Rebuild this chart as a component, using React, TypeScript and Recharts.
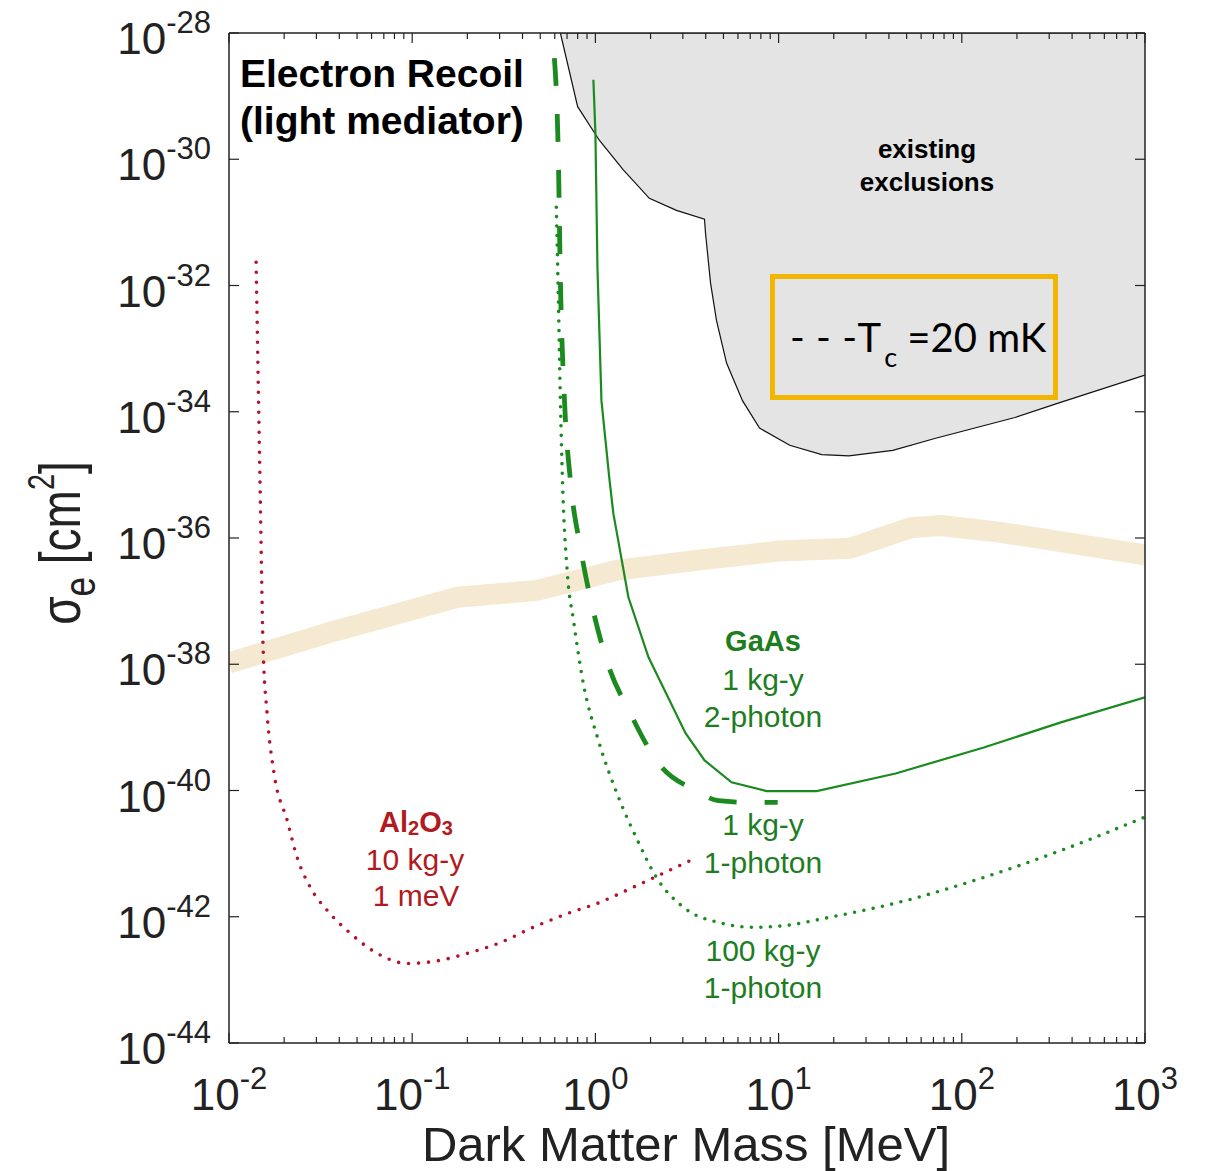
import React from 'react'
import { ComposedChart, Line, Area, XAxis, YAxis } from 'recharts'

// existing exclusions: lower edge of the grey region [MeV], [cm^2]
const exclMass = [0.644, 0.8, 1.05, 1.42, 1.97, 2.77, 3.94, 3.99, 4.25, 4.58, 5.2, 6.35, 7.87, 11.5, 17.2, 24.2, 42, 72, 195, 339, 1000]
const exclSigma = [1e-28, 6.8e-30, 2.0e-30, 6.8e-31, 2.4e-31, 1.55e-31, 1.12e-31, 6.8e-32, 1.1e-32, 2.8e-33, 5.9e-34, 1.5e-34, 5.5e-35, 2.95e-35, 2.1e-35, 2.0e-35, 2.45e-35, 3.8e-35, 8.1e-35, 1.38e-34, 3.8e-34]

// freeze-in target band
const targetMass = [0.01, 0.0344, 0.176, 0.48, 1.32, 3.75, 10, 24.7, 52.6, 76.7, 163, 1000]
const targetSigma = [1.05e-38, 3.1e-38, 1.15e-37, 1.48e-37, 3.1e-37, 4.5e-37, 6.2e-37, 6.9e-37, 1.45e-36, 1.58e-36, 1.23e-36, 5.4e-37]

// Al2O3 10 kg-y, 1 meV threshold
const al2o3Mass = [0.01406, 0.01476, 0.01535, 0.01614, 0.01762, 0.02075, 0.02355, 0.02773, 0.03436, 0.04581, 0.06442, 0.09397, 0.1422, 0.2, 0.3027, 0.4581, 0.7031, 1.064, 1.614, 3.304]
const al2o3Sigma = [2.34e-32, 8.3e-36, 1.86e-38, 1.66e-39, 1.86e-40, 3.4e-41, 8.7e-42, 2.95e-42, 1.26e-42, 5.5e-43, 2.63e-43, 1.82e-43, 2.04e-43, 2.63e-43, 3.9e-43, 6.8e-43, 1.12e-42, 1.7e-42, 2.95e-42, 7.8e-42]

// GaAs 100 kg-y 1-photon
const gaas100Mass = [0.612, 0.628, 0.644, 0.661, 0.703, 0.759, 0.859, 1.037, 1.337, 1.698, 2.153, 3.027, 4.887, 7.211, 10.64, 19.01, 50.0, 131.8, 347.5, 1000]
const gaas100Sigma = [1.74e-31, 5.9e-33, 1.5e-34, 8.3e-36, 2.75e-37, 5.0e-38, 5.0e-39, 6.3e-40, 7.8e-41, 1.62e-41, 4.2e-42, 1.41e-42, 7.9e-43, 6.8e-43, 7.2e-43, 9.8e-43, 1.82e-42, 4.2e-42, 1.12e-41, 3.8e-41]

// GaAs 1 kg-y 1-photon, Tc = 20 mK (dashed)
const gaasTcMass = [0.597, 0.628, 0.644, 0.678, 0.73, 0.828, 0.964, 1.164, 1.552, 2.208, 3.516, 4.699, 6.855, 9.886]
const gaasTcSigma = [4.0e-29, 9.8e-31, 1.23e-32, 1.5e-34, 8.3e-36, 7.1e-37, 7.9e-38, 1.05e-38, 1.66e-39, 2.7e-40, 1.0e-40, 6.9e-41, 6.5e-41, 6.5e-41]

// GaAs 1 kg-y 2-photon (solid)
const gaas2pMass = [0.975, 1.0, 1.026, 1.079, 1.194, 1.253, 1.514, 1.95, 3.105, 3.945, 5.534, 8.59, 16.14, 43.55, 131.8, 347.5, 1000]
const gaas2pSigma = [1.82e-29, 2.63e-30, 1.95e-32, 1.5e-34, 8.3e-36, 2.45e-36, 1.15e-37, 1.29e-38, 8.1e-40, 3.0e-40, 1.35e-40, 9.8e-41, 9.8e-41, 1.86e-40, 4.8e-40, 1.2e-39, 3.0e-39]

const xDecades = [0.01, 0.1, 1, 10, 100]
const xMantissas = [1, 2, 3, 4, 5, 6, 7, 8, 9]
const xTicks = [...xDecades.flatMap((d) => xMantissas.map((k) => k * d)), 1000]
const yTicks = [1e-44, 1e-42, 1e-40, 1e-38, 1e-36, 1e-34, 1e-32, 1e-30, 1e-28]

const SIGMA_TOP = 1e-28
const SANS = '"Liberation Sans", Arial, Helvetica, sans-serif'
const INK = '#222'
const GREEN = '#1b8a1f'
const GREEN_TXT = '#1d7d1f'
const RED = '#b3142c'
const RED_TXT = '#b11a1e'

const pts = (m: number[], s: number[]) => m.map((v, i) => ({ m: v, s: s[i] }))

const isMajor = (v: number) => {
  const e = Math.log10(v)
  return Math.abs(e - Math.round(e)) < 1e-6
}

function PowerLabel({ x, y, exp, anchor }: { x: number; y: number; exp: number; anchor: 'middle' | 'end' }) {
  return (
    <text x={x} y={y} textAnchor={anchor} fontFamily={SANS} fontSize={44} fill={INK}>
      10
      <tspan dy={-21} fontSize={31}>{String(exp)}</tspan>
    </text>
  )
}

function BottomTick(p: any) {
  const { x, y, payload } = p
  const major = isMajor(payload.value)
  return (
    <g>
      <line x1={x} y1={y} x2={x} y2={y - (major ? 10 : 6)} stroke={INK} strokeWidth={1.2} />
      {major && <PowerLabel x={x} y={y + 67} exp={Math.round(Math.log10(payload.value))} anchor="middle" />}
    </g>
  )
}

function TopTick(p: any) {
  const { x, y, payload } = p
  const major = isMajor(payload.value)
  return <line x1={x} y1={y} x2={x} y2={y + (major ? 10 : 6)} stroke={INK} strokeWidth={1.2} />
}

function LeftTick(p: any) {
  const { x, y, payload } = p
  return (
    <g>
      <line x1={x} y1={y} x2={x + 10} y2={y} stroke={INK} strokeWidth={1.2} />
      <PowerLabel x={x - 18} y={y + 21} exp={Math.round(Math.log10(payload.value))} anchor="end" />
    </g>
  )
}

function RightTick(p: any) {
  const { x, y } = p
  return <line x1={x} y1={y} x2={x - 10} y2={y} stroke={INK} strokeWidth={1.2} />
}

function Txt({ cx, base, size, color = INK, bold = false, font = SANS, children }: any) {
  return (
    <div
      style={{
        position: 'absolute',
        left: cx - 400,
        width: 800,
        textAlign: 'center',
        top: base - 0.8465 * size,
        fontFamily: font,
        fontSize: size,
        lineHeight: `${size}px`,
        fontWeight: bold ? 700 : 400,
        color,
        whiteSpace: 'nowrap',
      }}
    >
      {children}
    </div>
  )
}

export default function App() {
  const axisLine = { stroke: INK, strokeWidth: 1.5 }
  return (
    <div style={{ position: 'absolute', left: 0, top: 0, width: 1208, height: 1171, background: '#fff' }}>
      <ComposedChart width={1208} height={1171} margin={{ top: 32, right: 62, bottom: 28, left: 79 }}>
        <XAxis
          dataKey="m"
          type="number"
          scale="log"
          domain={[0.01, 1000]}
          allowDataOverflow
          ticks={xTicks}
          interval={0}
          tickSize={0}
          tickMargin={0}
          tickLine={false}
          axisLine={axisLine}
          tick={(p: any) => <BottomTick {...p} />}
          height={100}
        />
        <XAxis
          xAxisId="top"
          orientation="top"
          dataKey="m"
          type="number"
          scale="log"
          domain={[0.01, 1000]}
          allowDataOverflow
          ticks={xTicks}
          interval={0}
          tickSize={0}
          tickMargin={0}
          tickLine={false}
          axisLine={axisLine}
          tick={(p: any) => <TopTick {...p} />}
          height={1}
        />
        <YAxis
          type="number"
          scale="log"
          domain={[1e-44, 1e-28]}
          allowDataOverflow
          ticks={yTicks}
          interval={0}
          tickSize={0}
          tickMargin={0}
          tickLine={false}
          axisLine={axisLine}
          tick={(p: any) => <LeftTick {...p} />}
          width={150}
        />
        <YAxis
          yAxisId="right"
          orientation="right"
          type="number"
          scale="log"
          domain={[1e-44, 1e-28]}
          allowDataOverflow
          ticks={yTicks}
          interval={0}
          tickSize={0}
          tickMargin={0}
          tickLine={false}
          axisLine={axisLine}
          tick={(p: any) => <RightTick {...p} />}
          width={1}
        />

        <Area
          data={exclMass.map((m, i) => ({ m, band: [exclSigma[i], SIGMA_TOP] }))}
          dataKey="band"
          type="linear"
          stroke="#111"
          strokeWidth={1.2}
          fill="#e4e4e4"
          fillOpacity={1}
          isAnimationActive={false}
        />
        <Line
          data={pts(targetMass, targetSigma)}
          dataKey="s"
          type="linear"
          stroke="#f5e9d2"
          strokeWidth={21}
          strokeLinejoin="round"
          dot={false}
          isAnimationActive={false}
        />
        <Line
          data={pts(al2o3Mass, al2o3Sigma)}
          dataKey="s"
          type="monotone"
          stroke={RED}
          strokeWidth={3.6}
          strokeDasharray="0 10"
          strokeLinecap="round"
          dot={false}
          isAnimationActive={false}
        />
        <Line
          data={pts(gaas100Mass, gaas100Sigma)}
          dataKey="s"
          type="monotone"
          stroke={GREEN}
          strokeWidth={3.6}
          strokeDasharray="0 9.5"
          strokeLinecap="round"
          dot={false}
          isAnimationActive={false}
        />
        <Line
          data={pts(gaasTcMass, gaasTcSigma)}
          dataKey="s"
          type="monotone"
          stroke={GREEN}
          strokeWidth={4.8}
          strokeDasharray="28 28"
          dot={false}
          isAnimationActive={false}
        />
        <Line
          data={pts(gaas2pMass, gaas2pSigma)}
          dataKey="s"
          type="linear"
          stroke={GREEN}
          strokeWidth={2.2}
          dot={false}
          isAnimationActive={false}
        />
      </ComposedChart>

      {/* title in the corner */}
      <div style={{ position: 'absolute', left: 240, top: 87 - 0.8465 * 39, fontFamily: SANS, fontSize: 39, fontWeight: 700, color: '#000', whiteSpace: 'nowrap' }}>
        <div style={{ lineHeight: '39px' }}>Electron Recoil</div>
        <div style={{ lineHeight: '39px', marginTop: 8 }}>(light mediator)</div>
      </div>

      <Txt cx={927} base={158} size={26} bold color="#000">existing</Txt>
      <Txt cx={927} base={191} size={26} bold color="#000">exclusions</Txt>

      {/* Tc legend box */}
      <div style={{ position: 'absolute', left: 770, top: 274, width: 288, height: 126, border: '5px solid #f2b600', boxSizing: 'border-box' }} />
      <div style={{ position: 'absolute', left: 790, top: 352 - 0.887 * 40, fontFamily: 'Lato, "Open Sans", sans-serif', fontSize: 40, lineHeight: '40px', color: '#000', whiteSpace: 'nowrap' }}>
        <span style={{ letterSpacing: 0.5 }}>- - -</span>T<span style={{ position: 'relative', top: 15, fontSize: 27, marginLeft: 3 }}>c</span> =20 mK
      </div>

      <Txt cx={763} base={652} size={29} bold color={GREEN_TXT}>GaAs</Txt>
      <Txt cx={763} base={690} size={30} color={GREEN_TXT}>1 kg-y</Txt>
      <Txt cx={763} base={727} size={30} color={GREEN_TXT}>2-photon</Txt>
      <Txt cx={763} base={835} size={30} color={GREEN_TXT}>1 kg-y</Txt>
      <Txt cx={763} base={873} size={30} color={GREEN_TXT}>1-photon</Txt>
      <Txt cx={763} base={961} size={30} color={GREEN_TXT}>100 kg-y</Txt>
      <Txt cx={763} base={998} size={30} color={GREEN_TXT}>1-photon</Txt>

      <Txt cx={416} base={833} size={29} bold color={RED_TXT}>
        Al<span style={{ fontSize: 20, position: 'relative', top: 3 }}>2</span>O<span style={{ fontSize: 20, position: 'relative', top: 3 }}>3</span>
      </Txt>
      <Txt cx={415} base={870} size={30} color={RED_TXT}>10 kg-y</Txt>
      <Txt cx={416} base={906} size={30} color={RED_TXT}>1 meV</Txt>

      {/* axis titles */}
      <Txt cx={686} base={1161} size={49} color={INK}>Dark Matter Mass [MeV]</Txt>
      <div
        style={{
          position: 'absolute',
          left: 64,
          top: 543,
          transform: 'translate(-50%, -50%) rotate(-90deg) scaleY(1.25)',
          fontFamily: SANS,
          fontSize: 46,
          lineHeight: '46px',
          color: INK,
          whiteSpace: 'nowrap',
        }}
      >
        σ<span style={{ position: 'relative', top: 12, fontSize: 35 }}>e</span> [cm
        <span style={{ position: 'relative', top: -21, fontSize: 29 }}>2</span>]
      </div>
    </div>
  )
}
